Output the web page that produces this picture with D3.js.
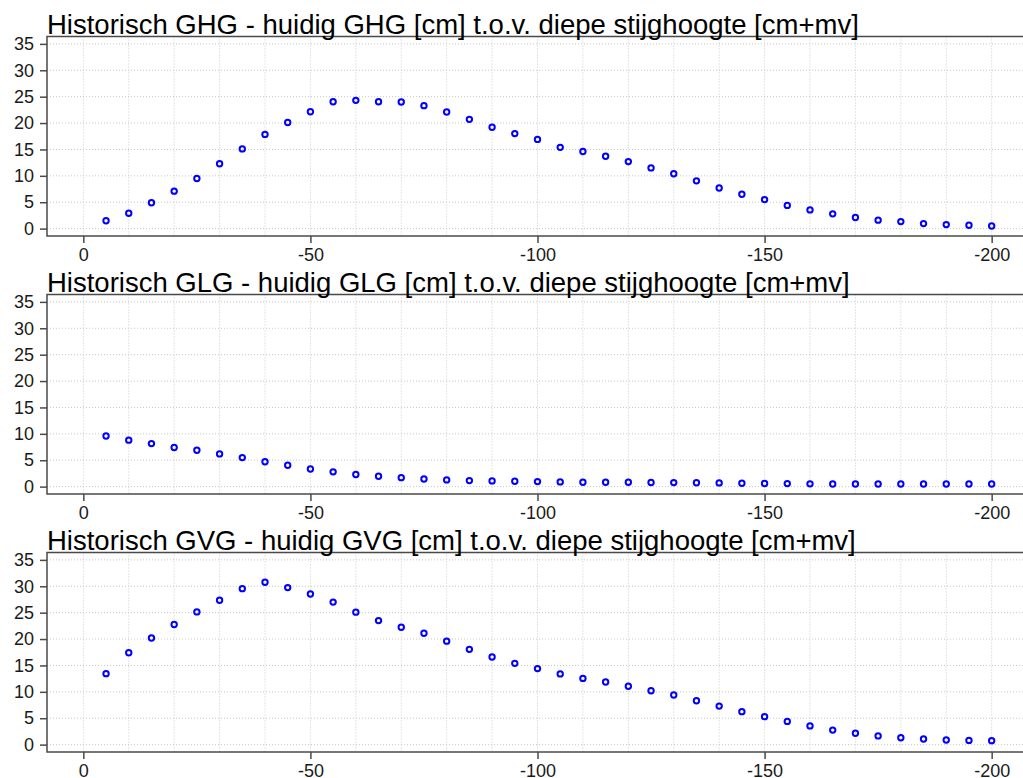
<!DOCTYPE html>
<html>
<head>
<meta charset="utf-8">
<script src="https://cdn.jsdelivr.net/npm/d3@7"></script>
<style>
  html, body { margin: 0; padding: 0; background: #ffffff; }
  svg { display: block; font-family: "Liberation Sans", Arial, sans-serif; }
</style>
</head>
<body>
<script>
// ---- data ----
const depths = [-5,-10,-15,-20,-25,-30,-35,-40,-45,-50,-55,-60,-65,-70,-75,-80,-85,-90,-95,-100,
  -105,-110,-115,-120,-125,-130,-135,-140,-145,-150,-155,-160,-165,-170,-175,-180,-185,-190,-195,-200];

const ghgValues = [1.5,2.9,4.9,7.1,9.5,12.3,15.1,17.85,20.1,22.15,24.05,24.3,24.05,24.0,23.3,22.1,20.7,19.2,18.0,16.9,
  15.4,14.6,13.7,12.7,11.5,10.4,9.05,7.7,6.5,5.5,4.4,3.55,2.8,2.1,1.6,1.33,0.95,0.76,0.63,0.5];

const glgValues = [9.6,8.8,8.15,7.4,6.9,6.2,5.5,4.7,4.05,3.35,2.8,2.3,1.95,1.7,1.45,1.27,1.14,1.08,1.01,0.95,
  0.89,0.84,0.82,0.82,0.78,0.76,0.72,0.7,0.64,0.6,0.57,0.52,0.5,0.5,0.5,0.5,0.5,0.5,0.5,0.5];

const gvgValues = [13.45,17.4,20.2,22.75,25.15,27.35,29.55,30.75,29.75,28.55,27.0,25.1,23.5,22.25,21.1,19.6,18.05,16.6,15.4,14.4,
  13.4,12.55,11.85,11.05,10.2,9.4,8.3,7.3,6.25,5.3,4.4,3.55,2.75,2.15,1.65,1.3,1.07,0.88,0.8,0.75];

const panelTitles = [
  "Historisch GHG - huidig GHG [cm] t.o.v. diepe stijghoogte [cm+mv]",
  "Historisch GLG - huidig GLG [cm] t.o.v. diepe stijghoogte [cm+mv]",
  "Historisch GVG - huidig GVG [cm] t.o.v. diepe stijghoogte [cm+mv]"
];
const panelSeries = [ghgValues, glgValues, gvgValues];

const xTicks = [0, -50, -100, -150, -200];
const xGrid = d3.range(0, -201, -10);
const yTicks = [0, 5, 10, 15, 20, 25, 30, 35];

// ---- layout ----
const W = 1023, H = 778;
const plotLeft = 47, plotRight = 1028;
const panelTop0 = 36.5, panelStep = 258, panelH = 199.5;

const svg = d3.select("body").append("svg").attr("width", W).attr("height", H);

const x = d3.scaleLinear().domain([8, -208]).range([plotLeft, plotRight]);

panelSeries.forEach((vals, i) => {
  const top = panelTop0 + i * panelStep;
  const bottom = top + panelH;
  const y = d3.scaleLinear().domain([-1.4, 36.4]).range([bottom, top]);
  const g = svg.append("g");

  // grid
  g.append("g").selectAll("line.hg").data(yTicks).join("line")
    .attr("x1", plotLeft).attr("x2", plotRight)
    .attr("y1", d => y(d)).attr("y2", d => y(d))
    .attr("stroke", "#c8c8c8").attr("stroke-width", 1).attr("stroke-dasharray", "1,2");
  g.append("g").selectAll("line.vg").data(xGrid).join("line")
    .attr("x1", d => x(d)).attr("x2", d => x(d))
    .attr("y1", top).attr("y2", bottom)
    .attr("stroke", "#c8c8c8").attr("stroke-width", 1).attr("stroke-dasharray", "1,2");

  // box
  g.append("rect")
    .attr("x", plotLeft).attr("y", top)
    .attr("width", plotRight - plotLeft).attr("height", bottom - top)
    .attr("fill", "none").attr("stroke", "#4a4a4a").attr("stroke-width", 1.5);

  // y axis
  const yAxis = g.append("g").attr("transform", `translate(${plotLeft},0)`)
    .call(d3.axisLeft(y).tickValues(yTicks).tickSize(7).tickPadding(6).tickSizeOuter(0));
  yAxis.select(".domain").remove();
  yAxis.selectAll(".tick line").attr("stroke", "#4a4a4a").attr("stroke-width", 1.5);
  yAxis.selectAll(".tick text").attr("fill", "#1a1a1a").style("font-size", "18px")
    .style("font-family", "\"Liberation Sans\", Arial, sans-serif");

  // x axis
  const xAxis = g.append("g").attr("transform", `translate(0,${bottom})`)
    .call(d3.axisBottom(x).tickValues(xTicks).tickFormat(d3.format("d")).tickSize(7).tickPadding(5).tickSizeOuter(0));
  xAxis.select(".domain").remove();
  xAxis.selectAll(".tick line").attr("stroke", "#4a4a4a").attr("stroke-width", 1.5);
  xAxis.selectAll(".tick text").attr("fill", "#1a1a1a").style("font-size", "18px")
    .style("font-family", "\"Liberation Sans\", Arial, sans-serif")
    .text(d => d3.format("d")(d).replace("\u2212", "-"));

  // points
  g.append("g").selectAll("circle").data(depths.map((d, k) => [d, vals[k]])).join("circle")
    .attr("cx", d => x(d[0])).attr("cy", d => y(d[1])).attr("r", 2.7)
    .attr("fill", "none").attr("stroke", "#0000ff").attr("stroke-width", 2);

  // title
  g.append("text")
    .attr("x", plotLeft).attr("y", top - 2.5)
    .attr("fill", "#000").style("font-size", "27.5px")
    .text(panelTitles[i]);
});
</script>
</body>
</html>
